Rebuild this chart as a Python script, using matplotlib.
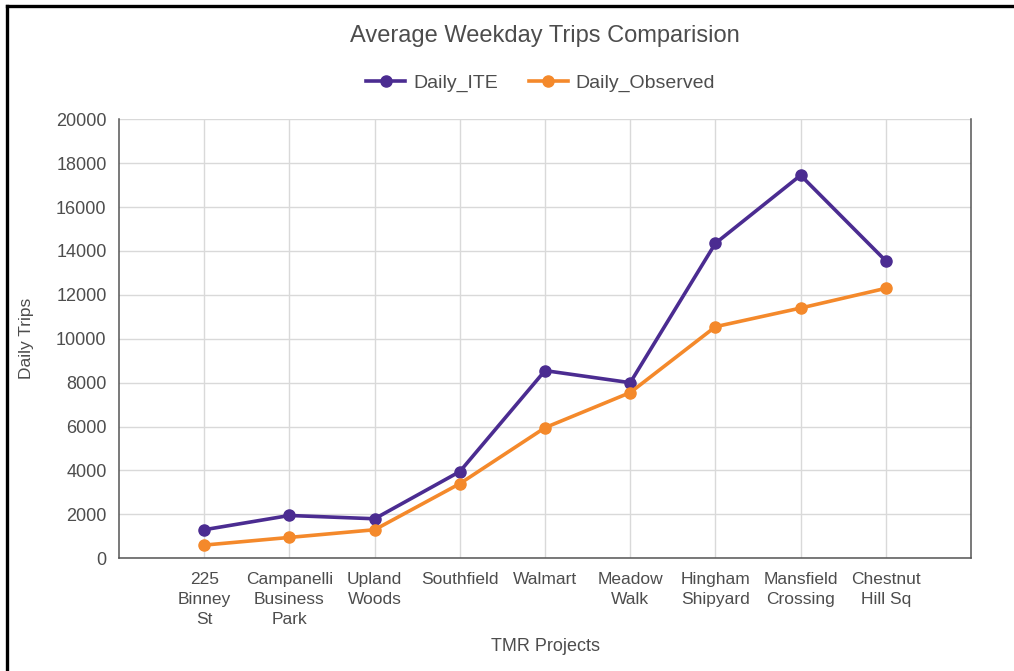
import matplotlib
matplotlib.use("Agg")
import matplotlib.pyplot as plt
from matplotlib.lines import Line2D

plt.rcParams['font.family'] = ['Liberation Sans', 'DejaVu Sans']

# data
projects = ["225\nBinney\nSt", "Campanelli\nBusiness\nPark", "Upland\nWoods", "Southfield",
            "Walmart", "Meadow\nWalk", "Hingham\nShipyard", "Mansfield\nCrossing", "Chestnut\nHill Sq"]
daily_ite = [1300, 1950, 1800, 3950, 8550, 8000, 14350, 17450, 13550]
daily_observed = [600, 950, 1300, 3400, 5950, 7550, 10550, 11400, 12300]
y_ticks = list(range(0, 20001, 2000))

purple = "#4b2c91"
orange = "#f4892b"
text_col = "#4d4d4d"

fig = plt.figure(figsize=(10.14, 6.71), dpi=100)
ax = fig.add_axes([0.1174, 0.168, 0.8402, 0.6542])

x = list(range(len(projects)))
ax.plot(x, daily_ite, color=purple, lw=2.6, marker="o", ms=8, label="Daily_ITE")
ax.plot(x, daily_observed, color=orange, lw=2.6, marker="o", ms=8, label="Daily_Observed")

ax.set_xlim(-1, len(projects))
ax.set_ylim(0, 20000)
ax.set_yticks(y_ticks)
ax.set_xticks(x)
ax.set_xticklabels(projects, fontsize=12.5, color=text_col, linespacing=1.4)
ax.tick_params(axis="y", labelsize=13, labelcolor=text_col, length=0, pad=9)
ax.tick_params(axis="x", length=0, pad=10)
ax.grid(True, color="#d9d9d9", lw=1)
ax.set_axisbelow(True)
for side in ["left", "bottom", "right"]:
    ax.spines[side].set_color("#555555")
    ax.spines[side].set_linewidth(1.1)
ax.spines["top"].set_visible(False)

ax.set_xlabel("TMR Projects", fontsize=13, color=text_col, labelpad=8)
ax.set_ylabel("Daily Trips", fontsize=12.5, color=text_col, labelpad=16)

fig.text(0.537, 0.946, "Average Weekday Trips Comparision", ha="center", va="center",
         fontsize=17, color=text_col)
ax.legend(loc="center", bbox_to_anchor=(0.495, 1.082), ncol=2, frameon=False,
          fontsize=14, handlelength=2.0, columnspacing=1.6, handletextpad=0.4,
          labelcolor=text_col)

# black frame around the figure (top and left)
fig.add_artist(Line2D([7 / 1014, 1], [1 - 6 / 671, 1 - 6 / 671], color="black", lw=2.4,
                      transform=fig.transFigure))
fig.add_artist(Line2D([7 / 1014, 7 / 1014], [0, 1 - 6 / 671], color="black", lw=2.4,
                      transform=fig.transFigure))

fig.savefig("out.png", dpi=100)
